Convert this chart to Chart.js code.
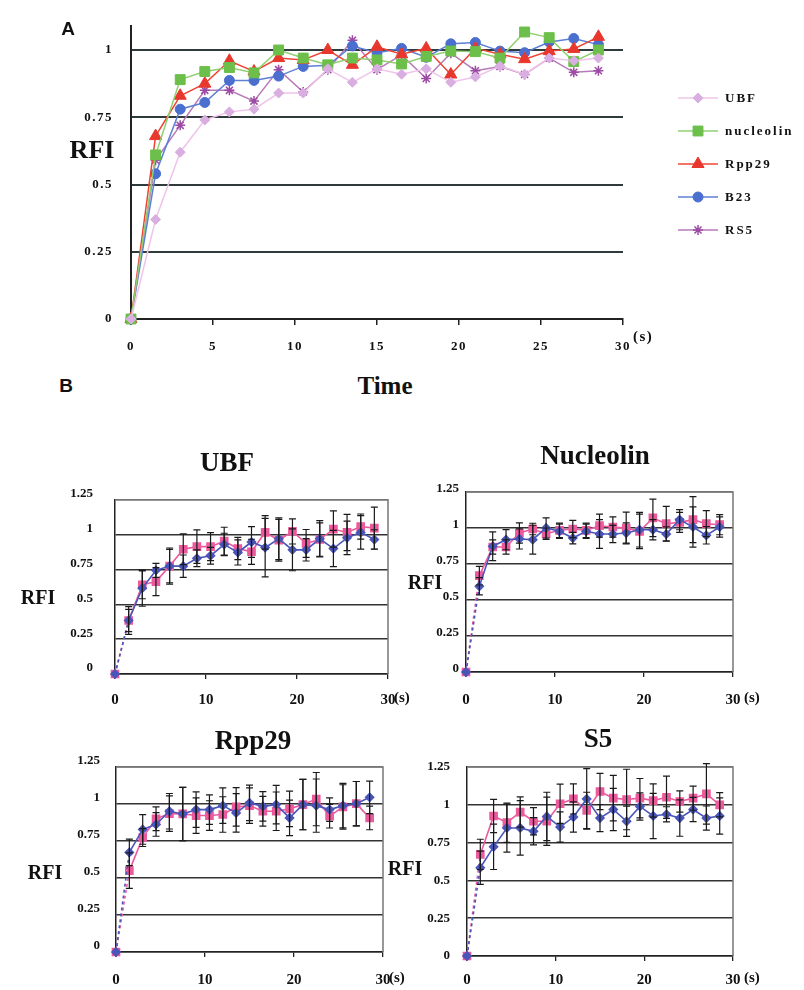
<!DOCTYPE html>
<html>
<head>
<meta charset="utf-8">
<title>RFI recovery</title>
<script src="https://cdn.jsdelivr.net/npm/chart.js@4.4.1/dist/chart.umd.min.js"></script>
<style>
  body { margin: 0; background: #fff; width: 804px; height: 990px; position: relative; overflow: hidden; }
  canvas { position: absolute; }
  .lbl { position: absolute; font-family: "Liberation Serif", "Times New Roman", serif; font-weight: bold; color: #111;
         transform: translate(-50%, -50%); white-space: nowrap; line-height: 1; }
  .panel { font-family: "Liberation Sans", Arial, sans-serif; font-size: 19px; }
</style>
</head>
<body>
<canvas id="chartA" width="804" height="362" style="left:0;top:0"></canvas>
<canvas id="chartUBF" width="425" height="240" style="left:0;top:470px"></canvas>
<canvas id="chartNuc" width="402" height="240" style="left:402px;top:470px"></canvas>
<canvas id="chartRpp" width="425" height="250" style="left:0;top:740px"></canvas>
<canvas id="chartS5" width="402" height="250" style="left:402px;top:740px"></canvas>

<div class="lbl panel" style="left:68px;top:28px">A</div>
<div class="lbl" style="left:92px;top:150px;font-size:26px">RFI</div>
<div class="lbl" style="left:385px;top:385px;font-size:25px">Time</div>
<div class="lbl panel" style="left:66px;top:385px">B</div>

<div class="lbl" style="left:227px;top:462px;font-size:27px">UBF</div>
<div class="lbl" style="left:595px;top:455px;font-size:27px">Nucleolin</div>
<div class="lbl" style="left:253px;top:740px;font-size:27px">Rpp29</div>
<div class="lbl" style="left:598px;top:738px;font-size:27px">S5</div>

<div class="lbl" style="left:38px;top:597px;font-size:20px">RFI</div>
<div class="lbl" style="left:425px;top:582px;font-size:20px">RFI</div>
<div class="lbl" style="left:45px;top:872px;font-size:20px">RFI</div>
<div class="lbl" style="left:405px;top:868px;font-size:20px">RFI</div>

<script>
// time points (s), shared by every series
const times = [0, 1.5, 3, 4.5, 6, 7.5, 9, 10.5, 12, 13.5, 15, 16.5, 18, 19.5, 21, 22.5, 24, 25.5, 27, 28.5];
const yTicksA = [0, 0.25, 0.5, 0.75, 1];
const yTicksB = [0, 0.25, 0.5, 0.75, 1, 1.25];

// panel A
const ubfA       = [0, 0.37, 0.62, 0.74, 0.77, 0.78, 0.84, 0.84, 0.93, 0.88, 0.93, 0.91, 0.93, 0.88, 0.90, 0.94, 0.91, 0.97, 0.96, 0.97];
const nucleolinA = [0, 0.61, 0.89, 0.92, 0.935, 0.915, 1.0, 0.97, 0.945, 0.97, 0.963, 0.948, 0.976, 0.996, 0.994, 0.97, 1.067, 1.046, 0.957, 1.0];
const rpp29A     = [0, 0.68, 0.83, 0.875, 0.96, 0.92, 0.97, 0.963, 1.0, 0.945, 1.012, 0.984, 1.006, 0.909, 1.006, 0.984, 0.966, 0.996, 1.004, 1.049];
const b23A       = [0, 0.54, 0.78, 0.805, 0.887, 0.887, 0.903, 0.939, 0.943, 1.015, 0.99, 1.006, 0.973, 1.023, 1.028, 0.996, 0.99, 1.03, 1.043, 1.02];
const rs5A       = [0, 0.59, 0.72, 0.85, 0.85, 0.81, 0.927, 0.844, 0.927, 1.036, 0.927, 0.982, 0.894, 0.988, 0.923, 0.939, 0.909, 0.97, 0.917, 0.923];

// panel B: blue and pink series with error bars (half widths)
const ubfBlue     = [0, 0.384, 0.616, 0.744, 0.774, 0.774, 0.83, 0.849, 0.93, 0.872, 0.947, 0.907, 0.97, 0.891, 0.891, 0.97, 0.9, 0.977, 1.016, 0.965];
const ubfBlueErr  = [0, 0.1, 0.13, 0.05, 0.13, 0.08, 0.06, 0.06, 0.08, 0.09, 0.11, 0.21, 0.15, 0.15, 0.08, 0.13, 0.13, 0.12, 0.12, 0.07];
const ubfPink     = [0, 0.384, 0.64, 0.663, 0.774, 0.895, 0.914, 0.914, 0.953, 0.9, 0.877, 1.016, 0.96, 1.023, 0.937, 0.965, 1.04, 1.016, 1.058, 1.047];
const ubfPinkErr  = [0, 0.08, 0.1, 0.1, 0.12, 0.11, 0.12, 0.1, 0.1, 0.08, 0.09, 0.12, 0.15, 0.09, 0.1, 0.12, 0.13, 0.13, 0.09, 0.15];

const nucBlue     = [0, 0.595, 0.873, 0.919, 0.924, 0.919, 1.0, 0.977, 0.93, 0.977, 0.958, 0.958, 0.965, 0.988, 0.988, 0.958, 1.058, 1.007, 0.949, 1.007];
const nucBlueErr  = [0, 0.06, 0.1, 0.07, 0.07, 0.1, 0.07, 0.05, 0.04, 0.05, 0.1, 0.06, 0.07, 0.12, 0.07, 0.05, 0.07, 0.14, 0.06, 0.07];
const nucPink     = [0, 0.669, 0.868, 0.868, 0.965, 0.993, 0.96, 0.984, 0.993, 0.984, 1.016, 1.007, 1.0, 0.977, 1.07, 1.03, 1.039, 1.058, 1.03, 1.023];
const nucPinkErr  = [0, 0.065, 0.05, 0.05, 0.07, 0.04, 0.04, 0.05, 0.06, 0.05, 0.08, 0.07, 0.11, 0.12, 0.13, 0.12, 0.07, 0.16, 0.09, 0.07];

const rppBlue     = [0, 0.673, 0.828, 0.862, 0.951, 0.933, 0.962, 0.962, 0.989, 0.94, 1.007, 0.984, 0.996, 0.906, 0.996, 0.989, 0.962, 0.989, 1.002, 1.045];
const rppBlueErr  = [0, 0.09, 0.1, 0.08, 0.12, 0.18, 0.12, 0.1, 0.12, 0.13, 0.12, 0.1, 0.13, 0.12, 0.17, 0.18, 0.08, 0.15, 0.15, 0.11];
const rppPink     = [0, 0.55, 0.773, 0.9, 0.935, 0.933, 0.922, 0.922, 0.929, 0.98, 0.989, 0.951, 0.951, 0.967, 0.996, 1.033, 0.918, 0.98, 1.002, 0.906];
const rppPinkErr  = [0, 0.12, 0.06, 0.08, 0.12, 0.18, 0.12, 0.1, 0.12, 0.13, 0.12, 0.1, 0.13, 0.12, 0.17, 0.18, 0.08, 0.15, 0.15, 0.08];

const s5Blue      = [0, 0.584, 0.722, 0.847, 0.847, 0.825, 0.923, 0.853, 0.919, 1.039, 0.912, 0.969, 0.891, 0.989, 0.926, 0.937, 0.912, 0.969, 0.912, 0.926];
const s5BlueErr   = [0, 0.11, 0.15, 0.16, 0.18, 0.09, 0.16, 0.1, 0.1, 0.2, 0.09, 0.14, 0.1, 0.09, 0.15, 0.05, 0.12, 0.08, 0.08, 0.12];
const s5Pink      = [0, 0.672, 0.926, 0.882, 0.952, 0.891, 0.891, 1.007, 1.039, 0.963, 1.088, 1.044, 1.035, 1.044, 1.028, 1.05, 1.022, 1.044, 1.072, 1.0];
const s5PinkErr   = [0, 0.1, 0.11, 0.13, 0.1, 0.09, 0.16, 0.13, 0.1, 0.12, 0.12, 0.15, 0.2, 0.13, 0.11, 0.14, 0.07, 0.08, 0.2, 0.08];

Chart.defaults.font.family = '"Liberation Serif", "Times New Roman", serif';
Chart.defaults.font.weight = 'bold';
Chart.defaults.color = '#111';

const pts = vals => times.map((t, i) => ({ x: t, y: vals[i] }));
const plain = v => String(v);

// vertical error bars drawn through the chart scales
const errorBars = {
  id: 'errorBars',
  afterDatasetsDraw(chart) {
    const { ctx, scales: { x, y } } = chart;
    ctx.save();
    ctx.strokeStyle = '#1a1a1a';
    ctx.lineWidth = 1.2;
    chart.data.datasets.forEach(ds => {
      if (!ds.errors) return;
      ds.data.forEach((p, i) => {
        const e = ds.errors[i];
        if (!e) return;
        const px = x.getPixelForValue(p.x);
        const top = y.getPixelForValue(p.y + e);
        const bot = y.getPixelForValue(p.y - e);
        ctx.beginPath();
        ctx.moveTo(px, top); ctx.lineTo(px, bot);
        ctx.moveTo(px - 3.5, top); ctx.lineTo(px + 3.5, top);
        ctx.moveTo(px - 3.5, bot); ctx.lineTo(px + 3.5, bot);
        ctx.stroke();
      });
    });
    ctx.restore();
  }
};

// top and right border of the small plots
const frame = {
  id: 'frame',
  beforeDatasetsDraw(chart) {
    const { ctx, chartArea: a } = chart;
    ctx.save();
    ctx.strokeStyle = '#777';
    ctx.lineWidth = 1.5;
    ctx.beginPath();
    ctx.moveTo(a.left, a.top); ctx.lineTo(a.right, a.top); ctx.lineTo(a.right, a.bottom);
    ctx.stroke();
    ctx.restore();
  }
};

// "(s)" after the last x tick
const unitLabel = {
  id: 'unitLabel',
  afterDraw(chart, args, opts) {
    const { ctx, scales: { x } } = chart;
    ctx.save();
    ctx.font = `bold ${opts.size}px "Liberation Serif", serif`;
    ctx.fillStyle = '#111';
    ctx.textBaseline = 'middle';
    ctx.fillText('(s)', x.getPixelForValue(x.max) + opts.dx, x.bottom - opts.dy);
    ctx.restore();
  }
};

// wide letter spacing on panel A text
const spacing = {
  id: 'spacing',
  beforeDraw(chart) { chart.ctx.letterSpacing = '1.5px'; }
};

const legendA = {
  id: 'legendA',
  afterDraw(chart) {
    const ctx = chart.ctx;
    ctx.save();
    ctx.font = 'bold 13px "Liberation Serif", serif';
    ctx.letterSpacing = '2px';
    ctx.textBaseline = 'middle';
    chart.data.datasets.forEach((ds, i) => {
      const y = 98 + i * 33;
      ctx.strokeStyle = ds.borderColor;
      ctx.lineWidth = 1.5;
      ctx.beginPath(); ctx.moveTo(678, y); ctx.lineTo(718, y); ctx.stroke();
      ctx.fillStyle = ds.pointBackgroundColor;
      ctx.strokeStyle = ds.pointBorderColor;
      ctx.lineWidth = ds.pointBorderWidth;
      Chart.helpers.drawPoint(ctx, { pointStyle: ds.pointStyle, radius: ds.pointRadius, borderWidth: ds.pointBorderWidth, rotation: 0 }, 698, y);
      ctx.fillStyle = '#111';
      ctx.fillText(ds.label, 725, y + 1);
    });
    ctx.restore();
  }
};

function seriesA(label, vals, line, marker, style, radius) {
  return {
    label, data: pts(vals), clip: false,
    borderColor: line, borderWidth: 1.5,
    pointStyle: style, pointRadius: radius,
    pointBackgroundColor: marker, pointBorderColor: marker, pointBorderWidth: style === 'star' ? 1.5 : 1
  };
}

new Chart(document.getElementById('chartA'), {
  type: 'line',
  data: {
    datasets: [
      seriesA('UBF', ubfA, '#f0c4ea', '#d9aee0', 'rectRot', 5),
      seriesA('nucleolin', nucleolinA, '#8fd070', '#6cbf4a', 'rect', 7),
      seriesA('Rpp29', rpp29A, '#ee4434', '#e8382e', 'triangle', 7),
      seriesA('B23', b23A, '#5d7fd4', '#4a6fcf', 'circle', 5),
      seriesA('RS5', rs5A, '#b67ab8', '#9c4aa4', 'star', 5)
    ]
  },
  options: {
    responsive: false,
    animation: false,
    layout: { padding: { top: 18, right: 181, left: 0, bottom: 0 } },
    plugins: {
      legend: { display: false },
      tooltip: { enabled: false },
      unitLabel: { dx: 10, dy: 25, size: 15 }
    },
    scales: {
      x: {
        type: 'linear', min: 0, max: 30,
        ticks: { stepSize: 5, padding: 14, font: { size: 13 }, callback: plain },
        grid: { drawOnChartArea: false, tickLength: 6, color: '#222', lineWidth: 1.5 },
        border: { color: '#222', width: 2 },
        afterFit: s => { s.height = 43; }
      },
      y: {
        min: 0, max: 1.09,
        afterBuildTicks: s => { s.ticks = yTicksA.map(v => ({ value: v })); },
        ticks: { padding: 18, font: { size: 13 }, callback: plain },
        grid: { drawTicks: false, color: '#2f3b3b', lineWidth: 2 },
        border: { color: '#222', width: 2 },
        afterFit: s => { s.width = 131; }
      }
    }
  },
  plugins: [spacing, legendA, unitLabel]
});

function seriesB(vals, errs, color, style, radius) {
  return {
    data: pts(vals), errors: errs, clip: false,
    borderColor: color, borderWidth: 1.6,
    pointStyle: style, pointRadius: radius,
    pointBackgroundColor: color, pointBorderColor: color,
    segment: { borderDash: c => c.p0DataIndex === 0 ? [3, 3] : undefined }
  };
}

function makeSub(id, blue, blueErr, pink, pinkErr, c) {
  new Chart(document.getElementById(id), {
    type: 'line',
    data: {
      datasets: [
        seriesB(blue, blueErr, '#4a55b8', 'rectRot', 4),
        seriesB(pink, pinkErr, '#ec5a9e', 'rect', 5)
      ]
    },
    options: {
      responsive: false,
      animation: false,
      layout: { padding: { top: c.top, right: c.right, left: 0, bottom: 0 } },
      plugins: {
        legend: { display: false },
        tooltip: { enabled: false },
        unitLabel: { dx: c.unitDx, dy: c.unitDy, size: 15 }
      },
      scales: {
        x: {
          type: 'linear', min: 0, max: 30,
          ticks: { stepSize: 10, padding: c.xPad, font: { size: 15 }, callback: plain },
          grid: { drawOnChartArea: false, tickLength: 5, color: '#222', lineWidth: 1.3 },
          border: { color: '#222', width: 1.5 },
          afterFit: s => { s.height = c.xHeight; }
        },
        y: {
          min: 0, max: 1.25,
          afterBuildTicks: s => { s.ticks = yTicksB.map(v => ({ value: v })); },
          ticks: { padding: c.yPad, labelOffset: c.labelOffset, font: { size: 13 }, callback: plain },
          grid: {
            drawTicks: false, lineWidth: 1.5,
            color: g => g.tick && g.tick.value === 1.25 ? '#777' : '#333'
          },
          border: { color: '#222', width: 1.5 },
          afterFit: s => { s.width = c.yWidth; }
        }
      }
    },
    plugins: [frame, errorBars, unitLabel]
  });
}

makeSub('chartUBF', ubfBlue, ubfBlueErr, ubfPink, ubfPinkErr,
  { top: 27, right: 37, yWidth: 115, xHeight: 36, xPad: 12, yPad: 22, labelOffset: -6, unitDx: 6, unitDy: 12 });
makeSub('chartNuc', nucBlue, nucBlueErr, nucPink, nucPinkErr,
  { top: 22, right: 71, yWidth: 64, xHeight: 38, xPad: 14, yPad: 7, labelOffset: -3, unitDx: 11, unitDy: 12 });
makeSub('chartRpp', rppBlue, rppBlueErr, rppPink, rppPinkErr,
  { top: 27, right: 42, yWidth: 116, xHeight: 38, xPad: 14, yPad: 16, labelOffset: -6, unitDx: 6, unitDy: 12 });
makeSub('chartS5', s5Blue, s5BlueErr, s5Pink, s5PinkErr,
  { top: 27, right: 71, yWidth: 65, xHeight: 34, xPad: 10, yPad: 17, labelOffset: 0, unitDx: 11, unitDy: 12 });
</script>
</body>
</html>
